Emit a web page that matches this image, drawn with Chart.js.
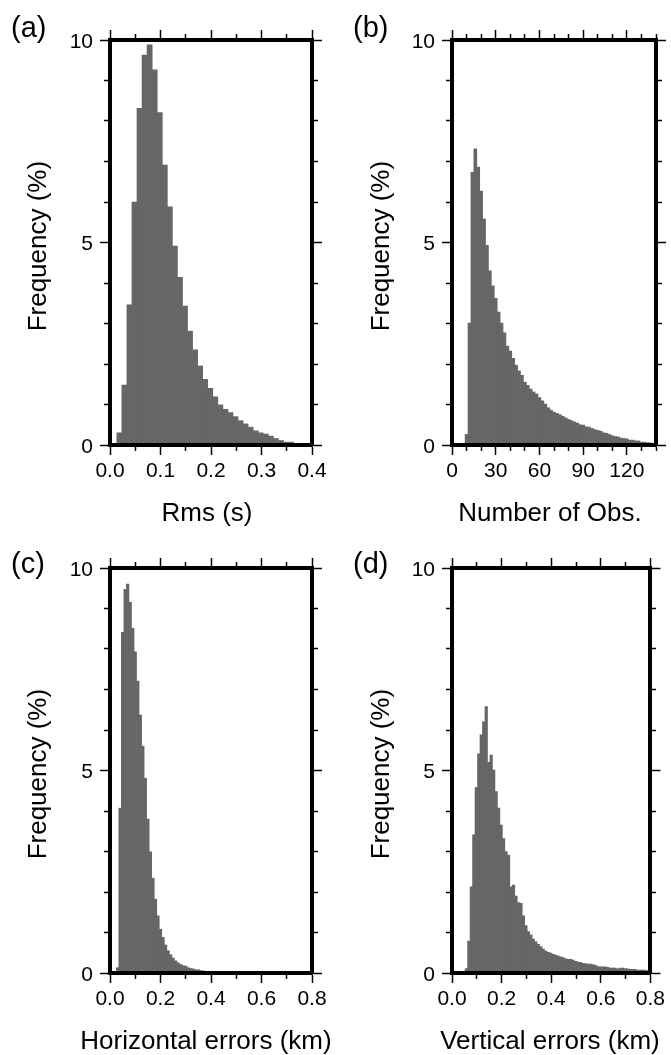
<!DOCTYPE html>
<html>
<head>
<meta charset="utf-8">
<script src="https://cdn.jsdelivr.net/npm/chart.js@4/dist/chart.umd.min.js"></script>
<style>
  html, body { margin: 0; padding: 0; background: #fff; }
  body { width: 671px; height: 1055px; position: relative; overflow: hidden;
         font-family: "Liberation Sans", Arial, Helvetica, sans-serif; color: #000; }
  canvas { position: absolute; }
  .tag { position: absolute; font-size: 29px; line-height: 29px; }
  .xtitle { position: absolute; width: 300px; text-align: center; font-size: 26px; line-height: 26px; white-space: nowrap; }
</style>
</head>
<body>
<canvas id="rms" width="335" height="530" style="left:0;top:0"></canvas>
<canvas id="obs" width="336" height="530" style="left:335px;top:0"></canvas>
<canvas id="herr" width="335" height="525" style="left:0;top:530px"></canvas>
<canvas id="verr" width="336" height="525" style="left:335px;top:530px"></canvas>
<div class="tag" style="left:11px;top:13px">(a)</div>
<div class="tag" style="left:353px;top:13px">(b)</div>
<div class="tag" style="left:11px;top:549px">(c)</div>
<div class="tag" style="left:353px;top:549px">(d)</div>
<div class="xtitle" style="left:57px;top:499px">Rms (s)</div>
<div class="xtitle" style="left:400px;top:499px">Number of Obs.</div>
<div class="xtitle" style="left:56px;top:1027px">Horizontal errors (km)</div>
<div class="xtitle" style="left:400px;top:1027px">Vertical errors (km)</div>
<script>
// histogram heights (%), one value per bin
const rmsFreq = [0.3, 1.48, 3.46, 6.0, 8.31, 9.63, 9.88, 9.26, 8.21, 6.91, 5.88, 4.91, 4.14, 3.43,
  2.81, 2.35, 1.95, 1.62, 1.40, 1.19, 0.99, 0.88, 0.80, 0.70, 0.60, 0.52, 0.44, 0.35, 0.30, 0.27,
  0.22, 0.16, 0.11, 0.07, 0.07, 0.04, 0.02, 0.01];
const obsFreq = [0.26, 3.01, 6.73, 7.31, 6.86, 6.27, 5.58, 4.93, 4.30, 3.93, 3.62, 3.28, 3.01, 2.77,
  2.44, 2.32, 2.14, 1.97, 1.83, 1.72, 1.55, 1.47, 1.38, 1.31, 1.26, 1.17, 1.09, 1.01, 0.92, 0.86,
  0.81, 0.78, 0.75, 0.71, 0.67, 0.63, 0.60, 0.57, 0.54, 0.50, 0.49, 0.45, 0.44, 0.41, 0.38, 0.36,
  0.34, 0.30, 0.29, 0.26, 0.23, 0.21, 0.20, 0.17, 0.16, 0.15, 0.12, 0.12, 0.10, 0.10, 0.07, 0.07,
  0.06, 0.05, 0.04];
const hErrFreq = [0.13, 4.07, 8.41, 9.47, 9.60, 9.15, 8.51, 7.93, 7.21, 6.37, 5.60, 4.81, 3.80, 2.99,
  2.34, 1.82, 1.41, 1.08, 0.88, 0.69, 0.55, 0.45, 0.37, 0.30, 0.25, 0.21, 0.18, 0.17, 0.13, 0.11,
  0.10, 0.08, 0.08, 0.06, 0.05, 0.04, 0.03, 0.02, 0.02, 0.01, 0.01];
const vErrFreq = [0.11, 0.79, 2.13, 3.41, 4.58, 5.41, 5.88, 6.20, 6.58, 5.20, 5.38, 5.01, 4.48, 4.07,
  3.65, 3.32, 3.00, 2.91, 2.13, 2.17, 1.90, 1.74, 1.72, 1.41, 1.17, 1.02, 0.94, 0.84, 0.77, 0.71,
  0.65, 0.59, 0.54, 0.51, 0.49, 0.46, 0.44, 0.42, 0.40, 0.38, 0.35, 0.34, 0.34, 0.32, 0.29, 0.27,
  0.26, 0.24, 0.23, 0.22, 0.22, 0.21, 0.19, 0.16, 0.15, 0.15, 0.15, 0.14, 0.12, 0.12, 0.12, 0.10,
  0.12, 0.12, 0.11, 0.10, 0.09, 0.09, 0.09, 0.07, 0.07, 0.07, 0.07, 0.06];

// bin layout: left edge of the first bin and bin width
const rmsBins = { start: 0.0135, width: 0.01 };
const obsBins = { start: 9, width: 2 };
const hErrBins = { start: 0.025, width: 0.01 };
const vErrBins = { start: 0.053, width: 0.01 };

// labelled (major) ticks
const rmsTickVals = [0, 0.1, 0.2, 0.3, 0.4];
const rmsTickLabels = ['0.0', '0.1', '0.2', '0.3', '0.4'];
const obsTickVals = [0, 30, 60, 90, 120];
const obsTickLabels = ['0', '30', '60', '90', '120'];
const errTickVals = [0, 0.2, 0.4, 0.6, 0.8];
const errTickLabels = ['0.0', '0.2', '0.4', '0.6', '0.8'];
const freqTickVals = [0, 5, 10];
const freqTickLabels = ['0', '5', '10'];

const FONT = '"Liberation Sans", Arial, Helvetica, sans-serif';
const BAR = '#666666';

function majorIndex(vals, v) {
  return vals.findIndex(m => Math.abs(m - v) < 1e-6);
}

// outerFirst: Chart.js strokes the tick from its outer end toward the frame (left/top)
function tickGrid(vals, outerFirst) {
  return {
    drawOnChartArea: false,
    offset: false,
    tickLength: 10,
    tickWidth: 1.5,
    tickColor: '#000',
    tickBorderDash: c => majorIndex(vals, c.tick.value) >= 0 ? [] : (outerFirst ? [0, 4, 4, 0] : [4, 40])
  };
}

const frame = { display: true, color: '#000', width: 4, z: 1 };

function histogram(id, p) {
  const points = p.freq.map((f, i) => ({ x: p.bins.start + p.bins.width * (i + 0.5), y: f }));
  const labelFor = (vals, labels) => v => {
    const k = majorIndex(vals, v);
    return k >= 0 ? labels[k] : '';
  };
  new Chart(document.getElementById(id), {
    type: 'bar',
    data: {
      datasets: [{
        data: points,
        backgroundColor: BAR,
        borderWidth: 0,
        barPercentage: 1,
        categoryPercentage: 1,
        inflateAmount: 0.35
      }]
    },
    options: {
      responsive: false,
      animation: false,
      devicePixelRatio: 1,
      events: [],
      layout: { padding: 0 },
      plugins: { legend: { display: false }, tooltip: { enabled: false } },
      scales: {
        x: {
          type: 'linear', position: 'bottom', min: p.xMin, max: p.xMax, offset: false,
          ticks: {
            stepSize: p.xStep, maxTicksLimit: 100, autoSkip: false, maxRotation: 0,
            padding: 6, color: '#000', font: { family: FONT, size: 21, lineHeight: 1 },
            callback: labelFor(p.xVals, p.xLabels)
          },
          grid: tickGrid(p.xVals, false),
          border: frame,
          afterFit: s => { s.height = p.box.bottom; }
        },
        xTop: {
          type: 'linear', position: 'top', min: p.xMin, max: p.xMax, offset: false,
          ticks: { stepSize: p.xStep, maxTicksLimit: 100, autoSkip: false, display: false },
          grid: tickGrid(p.xVals, true),
          border: frame,
          afterFit: s => { s.height = p.box.top; }
        },
        y: {
          type: 'linear', position: 'left', min: 0, max: 10,
          ticks: {
            stepSize: 1, maxTicksLimit: 100, autoSkip: false, padding: 7, labelOffset: 2,
            color: '#000', font: { family: FONT, size: 21, lineHeight: 1 },
            callback: labelFor(freqTickVals, freqTickLabels)
          },
          grid: tickGrid(freqTickVals, true),
          border: frame,
          title: {
            display: true, text: 'Frequency (%) ', color: '#000',
            font: { family: FONT, size: 26, lineHeight: 1 },
            padding: { top: p.yTitlePad, bottom: 0 }
          },
          afterFit: s => { s.width = p.box.left; }
        },
        yRight: {
          type: 'linear', position: 'right', min: 0, max: 10,
          ticks: { stepSize: 1, maxTicksLimit: 100, autoSkip: false, display: false },
          grid: tickGrid(freqTickVals, false),
          border: frame,
          afterFit: s => { s.width = p.box.right; }
        }
      }
    }
  });
}

histogram('rms', {
  freq: rmsFreq, bins: rmsBins, xMin: 0, xMax: 0.4, xStep: 0.05,
  xVals: rmsTickVals, xLabels: rmsTickLabels,
  box: { left: 110, right: 23, top: 40, bottom: 85 }, yTitlePad: 26
});
histogram('obs', {
  freq: obsFreq, bins: obsBins, xMin: 0, xMax: 140, xStep: 10,
  xVals: obsTickVals, xLabels: obsTickLabels,
  box: { left: 117, right: 15, top: 40, bottom: 85 }, yTitlePad: 34
});
histogram('herr', {
  freq: hErrFreq, bins: hErrBins, xMin: 0, xMax: 0.8, xStep: 0.1,
  xVals: errTickVals, xLabels: errTickLabels,
  box: { left: 110, right: 23, top: 38, bottom: 82 }, yTitlePad: 26
});
histogram('verr', {
  freq: vErrFreq, bins: vErrBins, xMin: 0, xMax: 0.8, xStep: 0.1,
  xVals: errTickVals, xLabels: errTickLabels,
  box: { left: 117, right: 15, top: 38, bottom: 82 }, yTitlePad: 34
});
</script>
</body>
</html>
